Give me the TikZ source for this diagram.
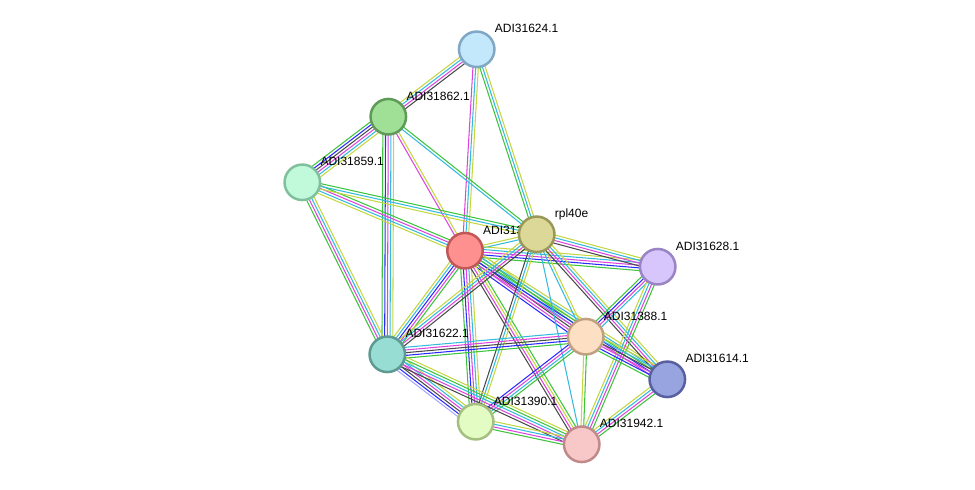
\documentclass[tikz,border=0pt]{standalone}
\usepackage{fontspec}
\setmainfont{Liberation Sans}
\usetikzlibrary{calc,backgrounds}
\definecolor{eG}{HTML}{3CC43C}
\definecolor{eB}{HTML}{2A2AFF}
\definecolor{eK}{HTML}{4A4A4A}
\definecolor{eM}{HTML}{DD44DD}
\definecolor{eC}{HTML}{33BBDD}
\definecolor{eY}{HTML}{C4D640}
\definecolor{eH}{HTML}{A8A8FF}
\tikzset{
  edge/.style={line width=1.05pt},
  prot/.style={circle,minimum size=35.5pt,inner sep=0pt,line width=2.5pt},
  lbl/.style={anchor=base west,font=\fontsize{12pt}{14pt}\selectfont,inner sep=0pt,text=black}
}
\newcommand\sedge[3]{%
  \gdef\ecount{0}%
  \foreach \c in {#3}{\xdef\ecount{\the\numexpr\ecount+1\relax}}%
  \foreach \c [count=\i] in {#3}{%
    \pgfmathsetmacro\o{(\i-1-(\ecount-1)/2)*2.7}%
    \draw[edge,\c] ($(#1.center)!\o pt!90:(#2.center)$) -- ($(#2.center)!\o pt!-90:(#1.center)$);
  }}
\newcommand\prot[6]{% name, x, y, fill, border, label
  \node[prot,fill=#4,draw=#5] (#1) at (#2,#3) {};
  \node[lbl] (l#1) at ($(#1)+(18,-16.5)$) {#6};}
\begin{document}
\begin{tikzpicture}[x=1pt,y=-1pt]
\useasboundingbox (0,0) rectangle (975,490);
\definecolor{f624}{HTML}{C3E7FB}\definecolor{b624}{HTML}{80A8C4}
\definecolor{f862}{HTML}{A0E096}\definecolor{b862}{HTML}{5F9A58}
\definecolor{f859}{HTML}{C1F9DB}\definecolor{b859}{HTML}{80C09C}
\definecolor{frpl}{HTML}{DCD898}\definecolor{brpl}{HTML}{9A9858}
\definecolor{fctr}{HTML}{FF9090}\definecolor{bctr}{HTML}{C05858}
\definecolor{f628}{HTML}{D6C6FC}\definecolor{b628}{HTML}{9A84C4}
\definecolor{f388}{HTML}{FDE0C4}\definecolor{b388}{HTML}{C0A080}
\definecolor{f622}{HTML}{98DDD4}\definecolor{b622}{HTML}{5C9A92}
\definecolor{f614}{HTML}{98A4E0}\definecolor{b614}{HTML}{5860A0}
\definecolor{f390}{HTML}{E2FCC4}\definecolor{b390}{HTML}{A4C080}
\definecolor{f942}{HTML}{F8C8C8}\definecolor{b942}{HTML}{C08A8A}
\prot{n624}{476.7}{49.3}{f624}{b624}{ADI31624.1}
\prot{n862}{388.3}{116.7}{f862}{b862}{ADI31862.1}
\prot{n859}{302.3}{182.3}{f859}{b859}{ADI31859.1}
\prot{nctr}{465}{250.7}{fctr}{bctr}{ADI31391.1}
\prot{nrpl}{536.7}{234.3}{frpl}{brpl}{rpl40e}
\prot{n628}{657.7}{266.7}{f628}{b628}{ADI31628.1}
\prot{n388}{585.7}{336.7}{f388}{b388}{ADI31388.1}
\prot{n622}{387.3}{354.3}{f622}{b622}{ADI31622.1}
\prot{n614}{667.3}{379.3}{f614}{b614}{ADI31614.1}
\prot{n390}{475.7}{421.7}{f390}{b390}{ADI31390.1}
\prot{n942}{581.7}{444.3}{f942}{b942}{ADI31942.1}
\begin{pgfonlayer}{background}
\sedge{n624}{n862}{eY,eC,eM,eK}
\sedge{n624}{nctr}{eM,eC,eY}
\sedge{n624}{nrpl}{eG,eC,eY}
\sedge{n862}{n859}{eG,eB,eK,eM,eC,eY}
\sedge{n862}{nctr}{eM,eY}
\sedge{n862}{nrpl}{eC,eG}
\sedge{n862}{n622}{eG,eB,eM,eC,eY}
\sedge{n859}{nctr}{eY,eC,eM,eG}
\sedge{n859}{nrpl}{eY,eC,eG}
\sedge{n859}{n622}{eG,eM,eC,eY}
\sedge{nctr}{nrpl}{eC,eY}
\sedge{nctr}{n628}{eG,eB,eM,eC,eY}
\sedge{nrpl}{n628}{eK,eM,eC,eY}
\sedge{nctr}{n388}{eB,eM,eK,eC,eG,eY}
\sedge{nctr}{n614}{eM,eB,eG,eC,eY}
\sedge{nctr}{n622}{eY,eC,eB,eM,eG}
\sedge{nctr}{n390}{eG,eB,eM,eC,eY}
\sedge{nctr}{n942}{eK,eM,eY,eG}
\sedge{nrpl}{n622}{eY,eC,eM,eK}
\sedge{nrpl}{n390}{eK,eC,eY}
\sedge{nrpl}{n388}{eC,eY}
\sedge{nrpl}{n614}{eK,eM,eC,eY}
\sedge{nrpl}{n942}{eC}
\sedge{n628}{n388}{eG,eB,eM,eC}
\sedge{n628}{n942}{eY,eC,eM,eG}
\sedge{n388}{n622}{eC,eM,eK,eB,eG}
\sedge{n388}{n614}{eG,eB,eM,eK,eC,eY}
\sedge{n388}{n390}{eB,eM,eC,eG}
\sedge{n388}{n942}{eY,eG}
\sedge{n622}{n390}{eH,eB,eK,eM,eC,eY}
\sedge{n622}{n942}{eK,eM,eC,eG,eY}
\sedge{n390}{n942}{eG,eM,eC,eY}
\sedge{n614}{n942}{eY,eC,eM,eG}
\end{pgfonlayer}
\end{tikzpicture}
\end{document}
